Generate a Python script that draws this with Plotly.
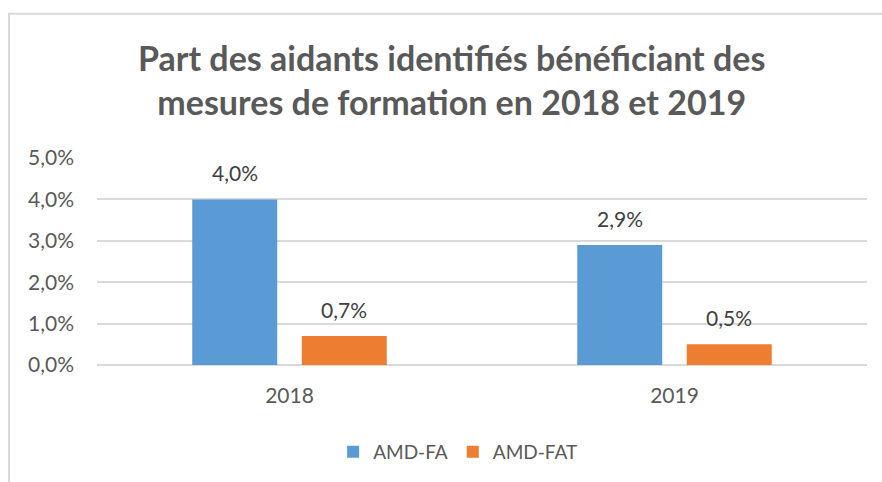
import plotly.graph_objects as go

# Chart data
years = ["2018", "2019"]
amd_fa = [0.040, 0.029]
amd_fat = [0.007, 0.005]
series_names = ["AMD-FA", "AMD-FAT"]
y_ticks = [0.0, 0.01, 0.02, 0.03, 0.04, 0.05]

title_text = "Part des aidants identifiés bénéficiant des<br>mesures de formation en 2018 et 2019"

BLUE = "#5B9BD5"
ORANGE = "#ED7D31"
GRID = "#D9D9D9"
TEXT = "#595959"
LABEL = "#404040"
FONT = "Lato"
SIZE = 21
BAR_OFFSET = 54.75  # px between group centre and each bar centre

fig = go.Figure()
series = [(series_names[0], amd_fa, BLUE, -BAR_OFFSET), (series_names[1], amd_fat, ORANGE, BAR_OFFSET)]
for name, vals, color, _ in series:
    fig.add_trace(go.Bar(
        x=years, y=vals, name=name,
        marker=dict(color=color, line=dict(width=0)),
    ))

# value labels above each bar
annotations = []
for name, vals, color, shift in series:
    for i, v in enumerate(vals):
        annotations.append(dict(
            x=i, y=v, xref="x", yref="y", xshift=shift, yshift=12,
            text=f"{v * 100:.1f}%".replace(".", ","),
            showarrow=False, xanchor="center", yanchor="bottom",
            font=dict(family=FONT, size=SIZE, color=LABEL),
        ))

annotations.append(dict(
    text="<b>" + title_text + "</b>", xref="paper", yref="paper",
    x=0.461, y=1.595, xanchor="center", yanchor="top", showarrow=False,
    font=dict(family=FONT, size=34, color=TEXT), align="center",
))

fig.update_layout(
    width=882, height=482,
    margin=dict(l=97, r=15, t=158, b=116),
    paper_bgcolor="white", plot_bgcolor="white",
    separators=", ",
    barmode="group", bargap=0.431, bargroupgap=0.224,
    font=dict(family=FONT, color=TEXT, size=SIZE),
    showlegend=True,
    legend=dict(orientation="h", x=0.469, xanchor="center", y=-0.413, yanchor="middle",
                font=dict(family=FONT, size=19, color=TEXT), itemwidth=30),
    xaxis=dict(type="category", range=[-0.5, 1.5], showgrid=False, showline=False, ticks="",
               ticklabelstandoff=16, tickfont=dict(size=SIZE, color=TEXT)),
    yaxis=dict(range=[0, 0.05], tickvals=y_ticks, tickformat=".1%",
               showgrid=True, gridcolor=GRID, gridwidth=2,
               zeroline=True, zerolinecolor=GRID, zerolinewidth=2,
               ticks="", ticklabelstandoff=22, tickfont=dict(size=SIZE, color=TEXT)),
    annotations=annotations,
    shapes=[dict(type="rect", xref="paper", yref="paper",
                 x0=-0.1143, x1=1.2, y0=-1.0, y1=1.697,
                 line=dict(color=GRID, width=2), layer="below")],
)

fig.write_html("out.html")
